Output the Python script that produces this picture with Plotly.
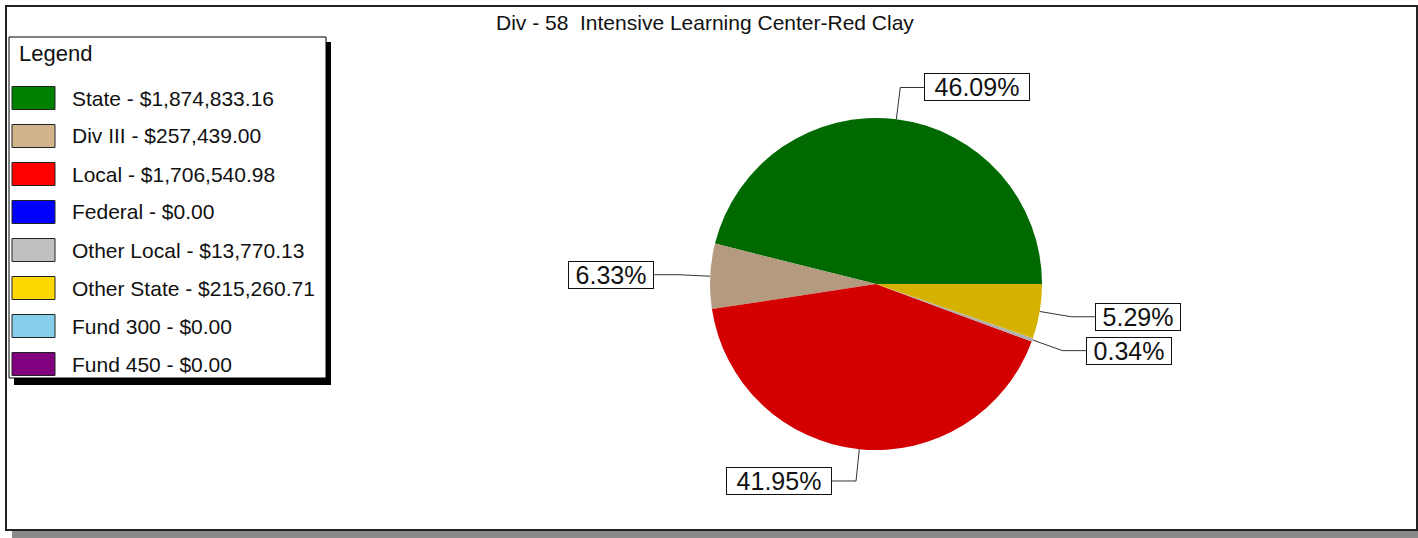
import math
import plotly.graph_objects as go

# ---------------- data ----------------
categories = ["State", "Div III", "Local", "Federal", "Other Local",
              "Other State", "Fund 300", "Fund 450"]
amounts = [1874833.16, 257439.00, 1706540.98, 0.00, 13770.13,
           215260.71, 0.00, 0.00]
pie_colors = ["#006900", "#B49A7E", "#D20000", "#0000E0", "#B0B0B0",
              "#D6B200", "#80C8E0", "#700070"]
legend_colors = ["#008000", "#D2B48C", "#FF0000", "#0000FF", "#C0C0C0",
                 "#FFD700", "#87CEEB", "#800080"]
title_text = "Div - 58  Intensive Learning Center-Red Clay"

# ---------------- layout helpers ----------------
W, H = 1418, 538
FONT = "Liberation Sans, Arial, sans-serif"


def px(x):
    return x / W


def py(y):
    return 1 - y / H


cx, cy, R = 876, 284, 166
total = sum(amounts)

# plotly's counterclockwise mode puts the first slice clockwise of 'rotation';
# we want the first slice to start at 3 o'clock and run counterclockwise.
rotation = 90 - 360 * amounts[0] / total

fig = go.Figure()
fig.add_trace(go.Pie(
    labels=categories,
    values=amounts,
    marker=dict(colors=pie_colors, line=dict(width=0)),
    sort=False,
    direction="counterclockwise",
    rotation=rotation,
    textinfo="none",
    showlegend=False,
    domain=dict(x=[px(cx - R), px(cx + R)], y=[py(cy + R), py(cy - R)]),
    hovertemplate="%{label}: $%{value:,.2f} (%{percent})<extra></extra>",
))

shapes = []
annotations = []

# outer frame with shadow
shapes.append(dict(type="rect", xref="paper", yref="paper",
                   x0=px(12), x1=px(1418), y0=py(538), y1=py(531),
                   fillcolor="#8a8a8a", line=dict(width=0), layer="below"))
shapes.append(dict(type="rect", xref="paper", yref="paper",
                   x0=px(6), x1=px(1417), y0=py(530), y1=py(6),
                   line=dict(color="#222222", width=2), layer="below"))

# title
annotations.append(dict(x=px(705), y=py(22), xref="paper", yref="paper",
                        text=title_text, showarrow=False,
                        font=dict(family=FONT, size=21, color="#111111"),
                        xanchor="center", yanchor="middle"))

# ---------------- percentage labels with leader lines ----------------
cum = 0.0
for name, val in zip(categories, amounts):
    if val <= 0:
        continue
    frac = val / total
    mid = 2 * math.pi * (cum + frac / 2)
    cum += frac
    ex = cx + R * math.cos(mid)
    ey = cy - R * math.sin(mid)
    kx = ex + 32 * math.cos(mid)
    ky = ey - 32 * math.sin(mid)
    side = 1 if math.cos(mid) >= 0 else -1
    bx = kx + side * 24
    shapes.append(dict(type="path", xref="paper", yref="paper",
                       path=f"M {px(ex)},{py(ey)} L {px(kx)},{py(ky)} L {px(bx)},{py(ky)}",
                       line=dict(color="#333333", width=1)))
    label = f"{frac * 100:.2f}%"
    annotations.append(dict(x=px(bx), y=py(ky), xref="paper", yref="paper",
                            text=label, showarrow=False,
                            xanchor="left" if side > 0 else "right",
                            yanchor="middle",
                            width=104 if len(label) > 5 else 84,
                            height=26, borderpad=0,
                            bgcolor="white", bordercolor="#111111",
                            borderwidth=1,
                            font=dict(family=FONT, size=25, color="#111111")))

# ---------------- legend box ----------------
shapes.append(dict(type="rect", xref="paper", yref="paper",
                   x0=px(14), x1=px(331), y0=py(385), y1=py(42),
                   fillcolor="black", line=dict(width=0)))
shapes.append(dict(type="rect", xref="paper", yref="paper",
                   x0=px(9), x1=px(326), y0=py(378), y1=py(37),
                   fillcolor="white", line=dict(color="black", width=1)))
annotations.append(dict(x=px(17), y=py(54), xref="paper", yref="paper",
                        text="Legend", showarrow=False,
                        xanchor="left", yanchor="middle",
                        font=dict(family=FONT, size=22, color="#111111")))

row0, step = 98, 38
for i, (name, val, col) in enumerate(zip(categories, amounts, legend_colors)):
    yc = row0 + i * step
    shapes.append(dict(type="rect", xref="paper", yref="paper",
                       x0=px(12), x1=px(55), y0=py(yc + 11.5), y1=py(yc - 11.5),
                       fillcolor=col, line=dict(color="#222222", width=1)))
    annotations.append(dict(x=px(70), y=py(yc), xref="paper", yref="paper",
                            text=f"{name} - ${val:,.2f}", showarrow=False,
                            xanchor="left", yanchor="middle",
                            font=dict(family=FONT, size=21, color="#111111")))

fig.update_layout(
    width=W, height=H,
    margin=dict(l=0, r=0, t=0, b=0),
    paper_bgcolor="white",
    plot_bgcolor="white",
    shapes=shapes,
    annotations=annotations,
    showlegend=False,
)

fig.write_html("out.html",
               config={"displayModeBar": False},
               post_script="document.body.style.margin='0px';"
                           "document.body.style.overflow='hidden';")
